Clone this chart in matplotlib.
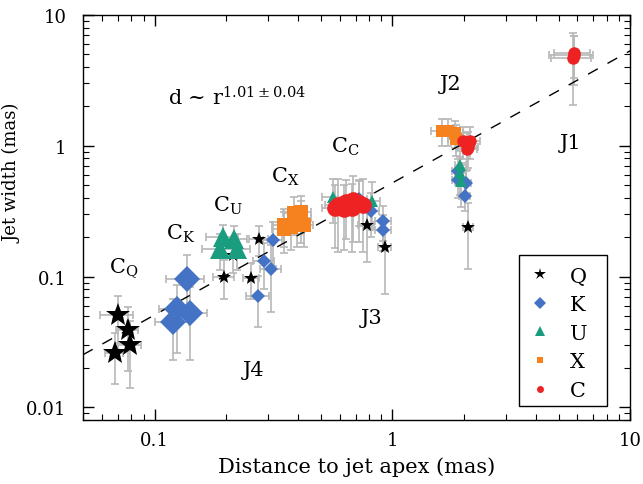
import matplotlib
matplotlib.use('Agg')
import matplotlib.pyplot as plt
from matplotlib.lines import Line2D
from matplotlib.patches import Rectangle
from matplotlib.ticker import FixedLocator, FixedFormatter, LogLocator, NullFormatter

plt.rcParams['font.family'] = ['DejaVu Serif']
plt.rcParams['mathtext.fontset'] = 'dejavuserif'

# Q band (43 GHz)
q_core_x = [0.070, 0.077, 0.079, 0.068]
q_core_y = [0.051, 0.039, 0.030, 0.026]
q_core_xerr = [0.011, 0.008, 0.009, 0.006]
q_core_yerr = [0.020, 0.020, 0.016, 0.011]
q_jet_x = [0.196, 0.214, 0.255, 0.275, 0.78, 0.93, 2.08]
q_jet_y = [0.100, 0.146, 0.097, 0.193, 0.249, 0.169, 0.24]
q_jet_xerr = [0.02, 0.02, 0.02, 0.025, 0.06, 0.06, 0.1]
q_jet_yerr = [0.033, 0.04, 0.03, 0.05, 0.12, 0.096, 0.125]

# K band (22 GHz)
k_core_x = [0.137, 0.124, 0.141, 0.120]
k_core_y = [0.095, 0.056, 0.053, 0.045]
k_core_xerr = [0.025, 0.02, 0.025, 0.02]
k_core_yerr = [0.05, 0.03, 0.03, 0.022]
k_jet_x = [0.315, 0.289, 0.309, 0.273, 0.726, 0.816, 0.917, 0.917, 1.89, 1.89, 2.035, 2.016]
k_jet_y = [0.190, 0.131, 0.114, 0.071, 0.392, 0.319, 0.266, 0.228, 0.647, 0.548, 0.518, 0.416]
k_jet_xerr = [0.03, 0.03, 0.03, 0.03, 0.06, 0.06, 0.07, 0.07, 0.1, 0.1, 0.1, 0.1]
k_jet_yerr = [0.07, 0.05, 0.06, 0.03, 0.15, 0.12, 0.08, 0.07, 0.15, 0.15, 0.12, 0.1]

# U band (15 GHz)
u_core_x = [0.194, 0.216, 0.189, 0.2225]
u_core_y = [0.200, 0.193, 0.162, 0.162]
u_core_xerr = [0.03, 0.03, 0.03, 0.03]
u_core_yerr = [0.05, 0.05, 0.05, 0.05]
u_jet_x = [0.565, 0.824, 1.933, 1.933, 1.95]
u_jet_y = [0.406, 0.378, 0.715, 0.621, 0.539]
u_jet_xerr = [0.06, 0.06, 0.1, 0.1, 0.1]
u_jet_yerr = [0.15, 0.15, 0.2, 0.2, 0.2]

# X band (8 GHz)
x_core_x = [0.387, 0.414, 0.414, 0.351, 0.376, 0.351, 0.426, 0.398]
x_core_y = [0.306, 0.311, 0.280, 0.248, 0.239, 0.231, 0.248, 0.248]
x_core_xerr = [0.04, 0.04, 0.04, 0.04, 0.04, 0.04, 0.04, 0.04]
x_core_yerr = [0.1, 0.1, 0.1, 0.08, 0.08, 0.08, 0.08, 0.08]
x_jet_x = [1.61, 1.72, 1.84, 1.86]
x_jet_y = [1.30, 1.30, 1.26, 1.13]
x_jet_xerr = [0.15, 0.15, 0.15, 0.15]
x_jet_yerr = [0.3, 0.3, 0.3, 0.3]

# C band (5 GHz)
c_core_x = [0.592, 0.640, 0.685, 0.726, 0.755, 0.628, 0.679, 0.575]
c_core_y = [0.353, 0.372, 0.385, 0.365, 0.353, 0.329, 0.334, 0.334]
c_core_xerr = [0.07, 0.07, 0.07, 0.07, 0.07, 0.07, 0.07, 0.07]
c_core_yerr = [0.2, 0.18, 0.2, 0.18, 0.2, 0.17, 0.18, 0.17]
c_jet_x = [1.99, 2.13, 2.09, 2.06, 5.78, 5.75, 5.80]
c_jet_y = [1.093, 1.093, 0.982, 0.948, 4.91, 4.65, 5.10]
c_jet_xerr = [0.2, 0.2, 0.2, 0.2, 1.2, 1.1, 1.0]
c_jet_yerr = [0.3, 0.3, 0.3, 0.3, 2.0, 2.6, 1.8]

fit_x = [0.05, 10.0]
fit_amp = 0.52
fit_index = 1.01

band_names = ['Q', 'K', 'U', 'X', 'C']

fig = plt.figure(figsize=(6.43, 4.85), dpi=100)
ax = fig.add_axes([0.129, 0.132, 0.851, 0.835])

ecol = '#b8b8b8'
ekw = dict(fmt='none', ecolor=ecol, elinewidth=1.2, capsize=3, capthick=1.2, zorder=1)

bands = [
    (q_core_x, q_core_y, q_core_xerr, q_core_yerr, q_jet_x, q_jet_y, q_jet_xerr, q_jet_yerr, '*', 'black', 18, 10),
    (k_core_x, k_core_y, k_core_xerr, k_core_yerr, k_jet_x, k_jet_y, k_jet_xerr, k_jet_yerr, 'D', '#4472c4', 13, 7),
    (u_core_x, u_core_y, u_core_xerr, u_core_yerr, u_jet_x, u_jet_y, u_jet_xerr, u_jet_yerr, '^', '#1a9c7f', 15, 8),
    (x_core_x, x_core_y, x_core_xerr, x_core_yerr, x_jet_x, x_jet_y, x_jet_xerr, x_jet_yerr, 's', '#f5821f', 10, 9),
    (c_core_x, c_core_y, c_core_xerr, c_core_yerr, c_jet_x, c_jet_y, c_jet_xerr, c_jet_yerr, 'o', '#ee2222', 12, 9),
]

for cx, cy, cxe, cye, jx, jy, jxe, jye, m, col, ms_core, ms_jet in bands:
    ax.errorbar(cx, cy, xerr=cxe, yerr=cye, **ekw)
    ax.errorbar(jx, jy, xerr=jxe, yerr=jye, **ekw)

for cx, cy, cxe, cye, jx, jy, jxe, jye, m, col, ms_core, ms_jet in bands:
    ax.plot(cx, cy, linestyle='none', marker=m, color=col, ms=ms_core, mew=0, zorder=3)
    ax.plot(jx, jy, linestyle='none', marker=m, color=col, ms=ms_jet, mew=0, zorder=3)

fit_y = [fit_amp * v ** fit_index for v in fit_x]
ax.plot(fit_x, fit_y, color='black', linestyle=(0, (8, 8)), linewidth=1, zorder=2)

ax.set_xscale('log')
ax.set_yscale('log')
ax.set_xlim(0.05, 10)
ax.set_ylim(0.008, 10)

ax.xaxis.set_major_locator(FixedLocator([0.1, 1, 10]))
ax.xaxis.set_major_formatter(FixedFormatter(['0.1', '1', '10']))
ax.yaxis.set_major_locator(FixedLocator([0.01, 0.1, 1, 10]))
ax.yaxis.set_major_formatter(FixedFormatter(['0.01', '0.1', '1', '10']))
ax.xaxis.set_minor_locator(LogLocator(base=10, subs=range(2, 10)))
ax.yaxis.set_minor_locator(LogLocator(base=10, subs=range(2, 10)))
ax.xaxis.set_minor_formatter(NullFormatter())
ax.yaxis.set_minor_formatter(NullFormatter())
ax.tick_params(which='both', direction='in', top=True, right=True, labelsize=13)
ax.tick_params(which='major', length=8, width=1)
ax.tick_params(which='minor', length=4, width=0.8)
ax.tick_params(axis='y', which='major', pad=12)
ax.tick_params(axis='x', which='major', pad=8)
for s in ax.spines.values():
    s.set_linewidth(1)

ax.set_xlabel('Distance to jet apex (mas)', fontsize=15, labelpad=5)
ax.set_ylabel('Jet width (mas)', fontsize=13, labelpad=8)
ax.yaxis.set_label_coords(-0.112, 0.612)

tfs = 15
tkw = dict(fontsize=tfs, ha='left', va='baseline')
ax.text(0.0643, 0.108, r'C$_{\mathregular{Q}}$', **tkw)
ax.text(0.1118, 0.193, r'C$_{\mathregular{K}}$', **tkw)
ax.text(0.1763, 0.317, r'C$_{\mathregular{U}}$', **tkw)
ax.text(0.3094, 0.530, r'C$_{\mathregular{X}}$', **tkw)
ax.text(0.5535, 0.899, r'C$_{\mathregular{C}}$', **tkw)
ax.text(1.577, 2.74, 'J2', **tkw)
ax.text(5.05, 0.965, 'J1', **tkw)
ax.text(0.740, 0.0438, 'J3', **tkw)
ax.text(0.2358, 0.0178, 'J4', **tkw)
ax.text(0.114, 2.06, r'd ~ r$^{\mathregular{1.01\pm0.04}}$', **tkw)

# legend box drawn separately so its size matches the original
ax.add_patch(Rectangle((0.797, 0.035), 0.161, 0.372, transform=ax.transAxes,
                       facecolor='white', edgecolor='black', linewidth=1, zorder=4))
handles = [
    Line2D([], [], linestyle='none', marker='*', color='black', ms=9, mew=0),
    Line2D([], [], linestyle='none', marker='D', color='#4472c4', ms=6, mew=0),
    Line2D([], [], linestyle='none', marker='^', color='#1a9c7f', ms=7, mew=0),
    Line2D([], [], linestyle='none', marker='s', color='#f5821f', ms=5, mew=0),
    Line2D([], [], linestyle='none', marker='o', color='#ee2222', ms=5, mew=0),
]
leg = ax.legend(handles, band_names, loc='upper left',
                bbox_to_anchor=(0.797, 0.407), frameon=False,
                fontsize=15, handlelength=0.9, handletextpad=1.0,
                labelspacing=0.46, borderpad=0.55, borderaxespad=0)
leg.set_zorder(5)

fig.savefig('out.png', dpi=100)
